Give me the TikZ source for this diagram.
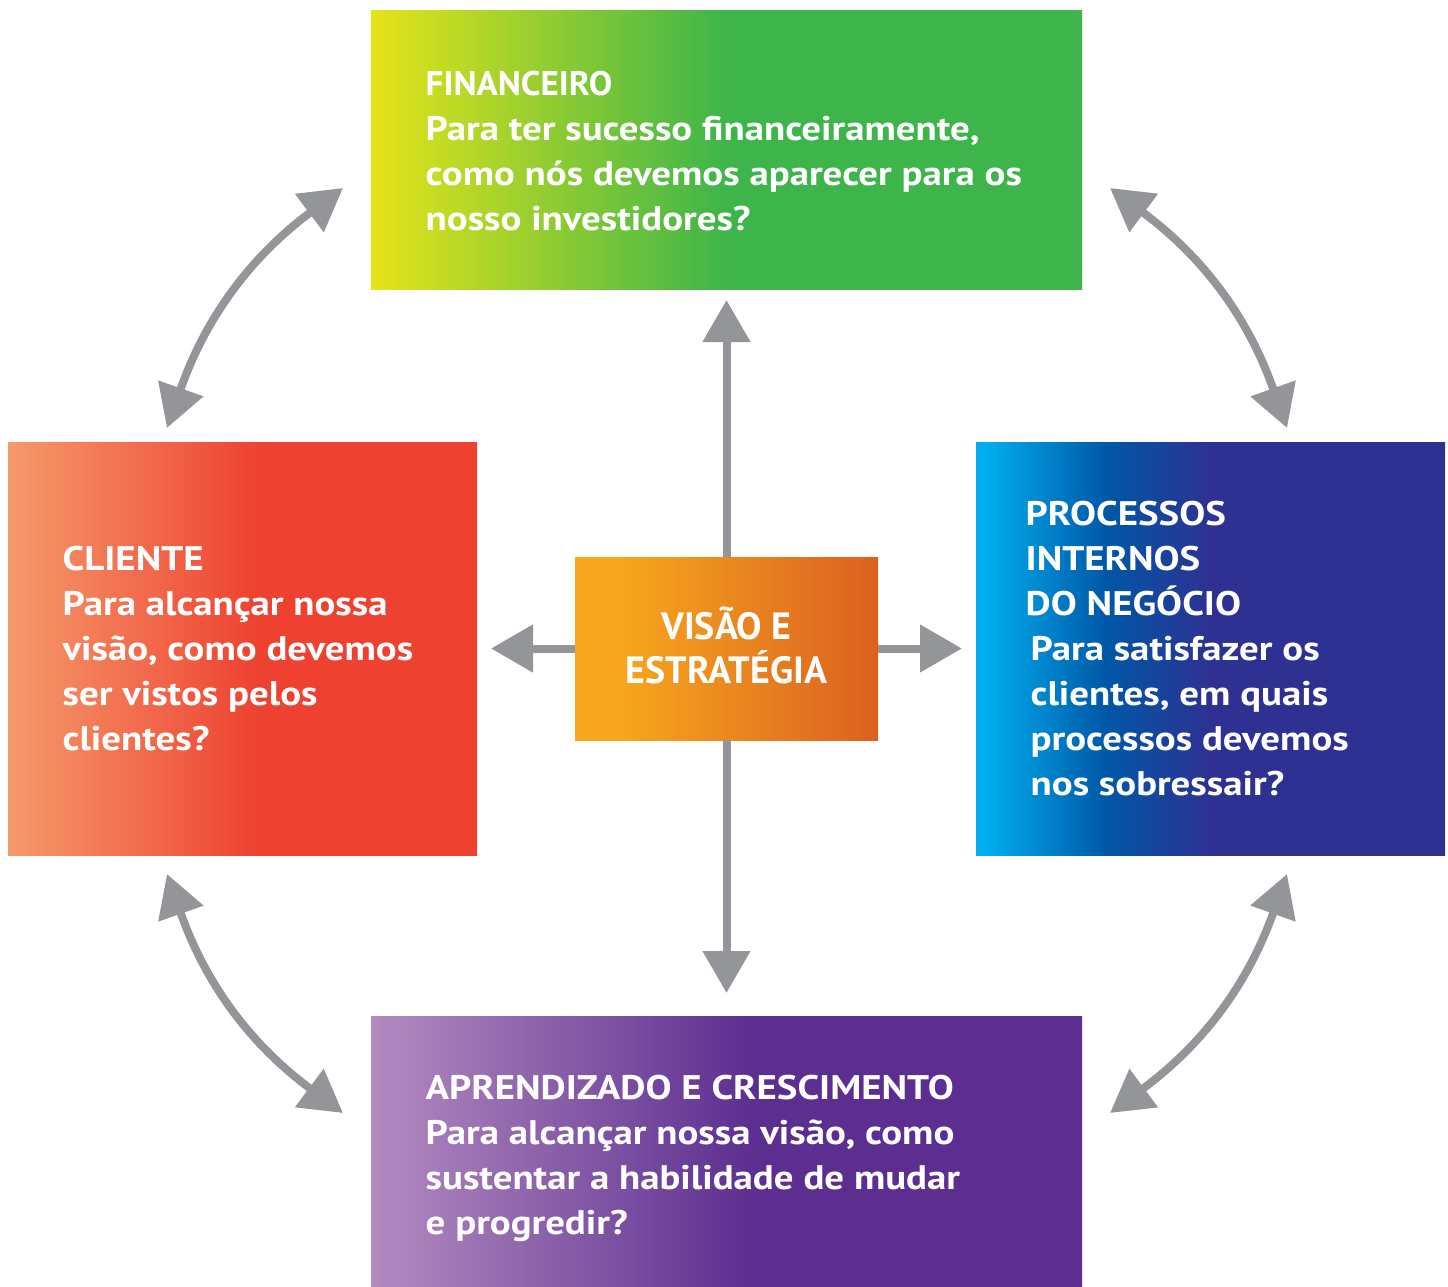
\documentclass[tikz,border=0pt]{standalone}
\usepackage{fontspec}
\setmainfont{PT Sans}
\newfontfamily\widefont{PT Sans}[FakeStretch=1.14]
\newfontfamily\narrowfont{PT Sans}[FakeStretch=1.03]
\usetikzlibrary{arrows.meta, positioning}

\definecolor{finA}{HTML}{E5E419}
\definecolor{finB}{HTML}{3DB54A}
\definecolor{cliA}{HTML}{F59A6B}
\definecolor{cliB}{HTML}{EE4130}
\definecolor{procA}{HTML}{00AEEF}
\definecolor{procB}{HTML}{0057A6}
\definecolor{procC}{HTML}{2E3192}
\definecolor{aprA}{HTML}{B38BC0}
\definecolor{aprB}{HTML}{5C2E90}
\definecolor{visA}{HTML}{F7A71D}
\definecolor{visB}{HTML}{DB6020}
\definecolor{arrgray}{HTML}{939598}

% gradients: 25bp = left edge, 75bp = right edge
\pgfdeclarehorizontalshading{finshade}{100bp}{color(0bp)=(finA); color(25bp)=(finA); color(50bp)=(finB); color(100bp)=(finB)}
\pgfdeclarehorizontalshading{clishade}{100bp}{color(0bp)=(cliA); color(25bp)=(cliA); color(52bp)=(cliB); color(100bp)=(cliB)}
\pgfdeclarehorizontalshading{procshade}{100bp}{color(0bp)=(procA); color(26bp)=(procA); color(39bp)=(procB); color(50bp)=(procC); color(100bp)=(procC)}
\pgfdeclarehorizontalshading{aprshade}{100bp}{color(0bp)=(aprA); color(25bp)=(aprA); color(52bp)=(aprB); color(100bp)=(aprB)}
\pgfdeclarehorizontalshading{visshade}{100bp}{color(0bp)=(visA); color(32bp)=(visA); color(75bp)=(visB); color(100bp)=(visB)}

\tikzset{
    box/.style={rectangle, inner sep=0pt, outer sep=0pt},
    txt/.style={text=white, font=\widefont\fontsize{9.7pt}{12.8pt}\selectfont\bfseries, align=left, inner sep=0pt, anchor=west},
    arr/.style={draw=arrgray, line width=0.08cm, -{Triangle[length=0.42cm, width=0.46cm]}},
    dbl/.style={arr, {Triangle[length=0.42cm, width=0.46cm]}-{Triangle[length=0.42cm, width=0.46cm]}},
}

\begin{document}
\begin{tikzpicture}
        \useasboundingbox (0, 0) rectangle (14.48, -12.87);

        \node[box, shading=finshade, minimum width=7.11cm, minimum height=2.79cm] (fin) at (7.265, -1.495) {};
        \node[box, shading=clishade, minimum width=4.69cm, minimum height=4.13cm] (cli) at (2.425, -6.485) {};
        \node[box, shading=procshade, minimum width=4.69cm, minimum height=4.13cm] (proc) at (12.105, -6.485) {};
        \node[box, shading=aprshade, minimum width=7.11cm, minimum height=2.71cm] (apr) at (7.265, -11.515) {};
        \node[box, shading=visshade, minimum width=3.03cm, minimum height=1.83cm] (vis) at (7.265, -6.485) {};

        \node[text=white, align=center, inner sep=0pt, font=\fontsize{10.8pt}{12.5pt}\selectfont\bfseries]
            (vistxt) at ([yshift=0.03cm]vis.center) {VISÃO E\\ESTRATÉGIA};
        \node[txt] (fintxt) at ([xshift=0.54cm, yshift=-0.02cm]fin.west) {\narrowfont FINANCEIRO\\Para ter sucesso financeiramente,\\como nós devemos aparecer para os\\nosso investidores?};
        \node[txt] (clitxt) at ([xshift=0.54cm]cli.west) {CLIENTE\\Para alcançar nossa\\visão, como devemos\\ser vistos pelos\\clientes?};
        \node[txt] (proctxt) at ([xshift=0.49cm]proc.west) {PROCESSOS\\INTERNOS\\DO NEGÓCIO\\\hspace*{0.05cm}Para satisfazer os\\\hspace*{0.05cm}clientes, em quais\\\hspace*{0.05cm}processos devemos\\\hspace*{0.05cm}nos sobressair?};
        \node[txt] (aprtxt) at ([xshift=0.54cm, yshift=-0.07cm]apr.west) {APRENDIZADO E CRESCIMENTO\\Para alcançar nossa visão, como\\sustentar a habilidade de mudar\\e progredir?};

        \coordinate (tla) at (3.43, -1.88);
        \coordinate (tlb) at (1.67, -4.28);
        \coordinate (tra) at (11.10, -1.88);
        \coordinate (trb) at (12.87, -4.28);
        \coordinate (bla) at (1.67, -8.74);
        \coordinate (blb) at (3.43, -11.13);
        \coordinate (bra) at (12.87, -8.74);
        \coordinate (brb) at (11.10, -11.13);

        \draw[arr, shorten >=0.11cm] (vis.north) -- (fin.south);
        \draw[arr, shorten >=0.23cm] (vis.south) -- (apr.north);
        \draw[arr, shorten >=0.14cm] (vis.west) -- (cli.east);
        \draw[arr, shorten >=0.14cm] (vis.east) -- (proc.west);

        \draw[dbl] (tla) to[bend right=17] (tlb);
        \draw[dbl] (tra) to[bend left=17] (trb);
        \draw[dbl] (bla) to[bend right=17] (blb);
        \draw[dbl] (bra) to[bend left=17] (brb);
    \end{tikzpicture}
\end{document}
